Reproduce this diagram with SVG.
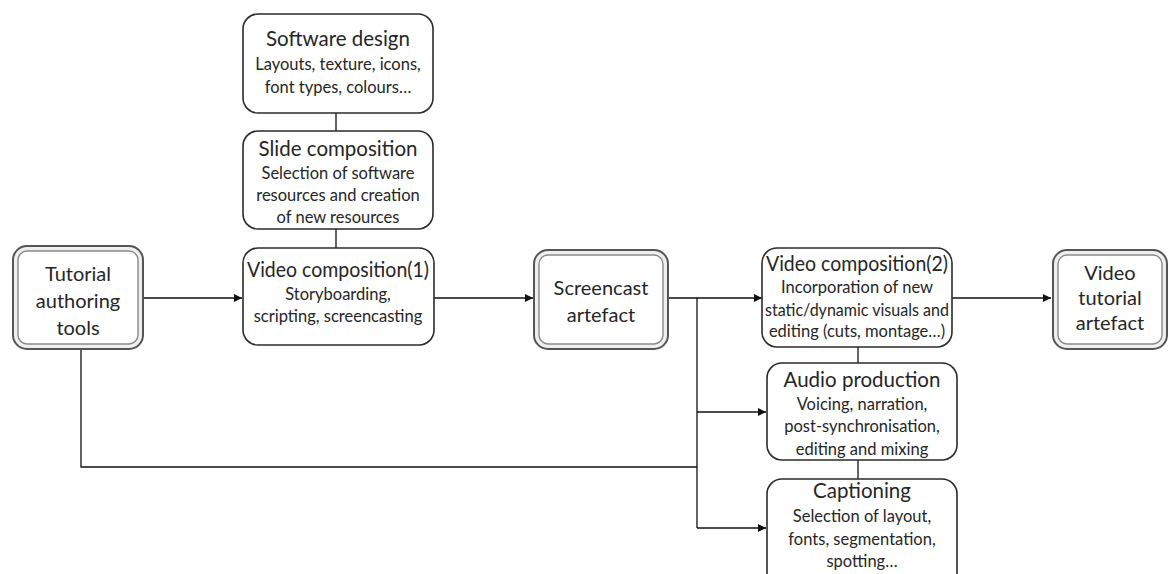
<svg xmlns="http://www.w3.org/2000/svg" width="1174" height="574" viewBox="0 0 1174 574">
<defs>
<style>
.box{fill:#fff;stroke:#2b2b2b;stroke-width:1.6}
.outer{fill:#efefef;stroke:#555;stroke-width:2}
.inner{fill:#fff;stroke:#8a8a8a;stroke-width:1.4}
.t{font-family:Lato,"Open Sans","Liberation Sans",sans-serif;fill:#262626;text-anchor:middle}
.ti{font-size:20.5px}
.sub{font-size:16.5px}
.big{font-size:20px}
.con{fill:none;stroke:#111;stroke-width:1.3}
</style>
<marker id="arr" viewBox="0 0 10 10" refX="10" refY="5" markerWidth="10" markerHeight="8" markerUnits="userSpaceOnUse" orient="auto">
<path d="M0,0 L10,5 L0,10 Z" fill="#111"/>
</marker>
</defs>
<rect width="1174" height="574" fill="#fff"/>

<g id="connectors">
<line class="con" x1="336" y1="113" x2="336" y2="131"/>
<line class="con" x1="336" y1="229" x2="336" y2="248"/>
<line class="con" x1="143" y1="298" x2="242" y2="298" marker-end="url(#arr)"/>
<line class="con" x1="434" y1="298" x2="533" y2="298" marker-end="url(#arr)"/>
<line class="con" x1="668" y1="298" x2="762" y2="298" marker-end="url(#arr)"/>
<line class="con" x1="952" y1="298" x2="1051" y2="298" marker-end="url(#arr)"/>
<line class="con" x1="858" y1="347" x2="858" y2="363"/>
<line class="con" x1="858" y1="460" x2="858" y2="479"/>
<polyline class="con" points="697,298 697,528"/>
<line class="con" x1="697" y1="412" x2="766" y2="412" marker-end="url(#arr)"/>
<line class="con" x1="697" y1="528" x2="766" y2="528" marker-end="url(#arr)"/>
<polyline class="con" points="81,349 81,467 697,467"/>
</g>

<g id="tutorial-authoring-tools">
<rect class="outer" x="13" y="246" width="130" height="103" rx="14"/>
<rect class="inner" x="18" y="251" width="120" height="93" rx="9"/>
<text class="t big" x="78" y="281">Tutorial</text>
<text class="t big" x="78" y="308">authoring</text>
<text class="t big" x="78" y="335">tools</text>
</g>

<g id="software-design">
<rect class="box" x="243" y="14" width="190" height="99" rx="15"/>
<text class="t ti" x="338" y="46">Software design</text>
<text class="t sub" x="338" y="70">Layouts, texture, icons,</text>
<text class="t sub" x="338" y="93">font types, colours…</text>
</g>

<g id="slide-composition">
<rect class="box" x="243" y="131" width="190" height="98" rx="15"/>
<text class="t ti" x="338" y="156">Slide composition</text>
<text class="t sub" x="338" y="179">Selection of software</text>
<text class="t sub" x="338" y="201">resources and creation</text>
<text class="t sub" x="338" y="223">of new resources</text>
</g>

<g id="video-composition-1">
<rect class="box" x="243" y="248" width="191" height="97" rx="15"/>
<text class="t ti" x="338" y="277" textLength="182" lengthAdjust="spacingAndGlyphs">Video composition(1)</text>
<text class="t sub" x="338" y="300">Storyboarding,</text>
<text class="t sub" x="338" y="322">scripting, screencasting</text>
</g>

<g id="screencast-artefact">
<rect class="outer" x="534" y="250" width="134" height="99" rx="14"/>
<rect class="inner" x="539" y="255" width="124" height="89" rx="9"/>
<text class="t big" x="601" y="295">Screencast</text>
<text class="t big" x="601" y="322">artefact</text>
</g>

<g id="video-composition-2">
<rect class="box" x="762" y="248" width="190" height="99" rx="15"/>
<text class="t ti" x="857" y="271" textLength="182" lengthAdjust="spacingAndGlyphs">Video composition(2)</text>
<text class="t sub" x="857" y="293">Incorporation of new</text>
<text class="t sub" x="857" y="316" textLength="184" lengthAdjust="spacingAndGlyphs">static/dynamic visuals and</text>
<text class="t sub" x="857" y="337">editing (cuts, montage…)</text>
</g>

<g id="audio-production">
<rect class="box" x="767" y="363" width="190" height="97" rx="15"/>
<text class="t ti" x="862" y="387">Audio production</text>
<text class="t sub" x="862" y="410">Voicing, narration,</text>
<text class="t sub" x="862" y="432">post-synchronisation,</text>
<text class="t sub" x="862" y="455">editing and mixing</text>
</g>

<g id="captioning">
<rect class="box" x="767" y="479" width="190" height="110" rx="15"/>
<text class="t ti" x="862" y="498">Captioning</text>
<text class="t sub" x="862" y="522">Selection of layout,</text>
<text class="t sub" x="862" y="545">fonts, segmentation,</text>
<text class="t sub" x="862" y="567">spotting…</text>
</g>

<g id="video-tutorial-artefact">
<rect class="outer" x="1053" y="250" width="114" height="99" rx="14"/>
<rect class="inner" x="1058" y="255" width="104" height="89" rx="9"/>
<text class="t big" x="1110" y="280">Video</text>
<text class="t big" x="1110" y="305">tutorial</text>
<text class="t big" x="1110" y="330">artefact</text>
</g>
</svg>
